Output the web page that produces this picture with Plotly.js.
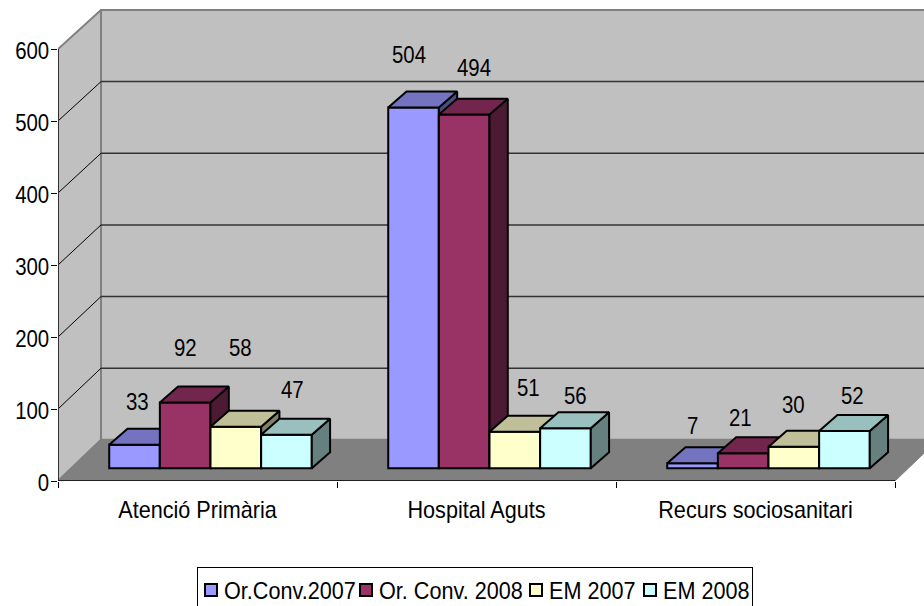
<!DOCTYPE html>
<html><head><meta charset="utf-8">
<script src="https://cdn.plot.ly/plotly-3.0.1.min.js"></script>
<style>html,body{margin:0;padding:0;background:#fff;overflow:hidden}</style>
</head><body><div id="chart" style="width:924px;height:606px"></div>
<script>
const categories = ["Atenció Primària", "Hospital Aguts", "Recurs sociosanitari"];
const seriesNames = ["Or.Conv.2007", "Or. Conv. 2008", "EM 2007", "EM 2008"];
const orConv2007 = [33, 504, 7];
const orConv2008 = [92, 494, 21];
const em2007 = [58, 51, 30];
const em2008 = [47, 56, 52];
const yTicks = [0, 100, 200, 300, 400, 500, 600];
const seriesValues = [orConv2007, orConv2008, em2007, em2008];

// styles
const frontColors = ["#9999ff", "#993366", "#ffffcc", "#ccffff"];
const topColors = ["#7373bf", "#73264d", "#bfbf99", "#99bfbf"];
const sideColors = ["#4d4d80", "#4d1a33", "#808066", "#668080"];
const FONT = "'Liberation Sans',Arial,sans-serif";

// label nudges per series/category (hand-placed labels in the original), px
const labelDx = [[3, -5, 0], [0, 10, -3], [5, 14, 0], [6, 10, 8]];
const labelDy = [[43, 53, 38], [55, 47, 36], [79, 44, 42], [45, 33, 36]];
// legend entry left edges inside the box, px
const legendEntryX = [-6, 149, 319, 433];
const legendTextGap = 33;

// geometry
const W = 866, H = 481, PXX = 279, PXY = 0.72;
const barW = 0.1815, depthX = 18.3 / PXX, depthY = 22.3;
const barScale = 0.716, barFloorPx = 12.7;
const wallDx = 43 / PXX;
const backY = v => 57.2 + v * 0.995;
const xMin = -0.5, xMax = xMin + W / PXX, yMax = H / PXY;

const traces = [];
const poly = (xs, ys, fill, line, width) => ({
  type: "scatter", mode: "lines", x: xs, y: ys, fill: "toself", fillcolor: fill,
  line: {color: line, width: width}, hoverinfo: "skip", showlegend: false, xaxis: "x", yaxis: "y", cliponaxis: true
});
const seg = (xs, ys, color, width, clip) => ({
  type: "scatter", mode: "lines", x: xs, y: ys, line: {color: color, width: width},
  hoverinfo: "skip", showlegend: false, xaxis: "x", yaxis: "y", cliponaxis: !!clip
});
const yTop = yTicks[yTicks.length - 1], xEnd = 2.5;
traces.push(poly([xMin + wallDx, xMax + 1, xMax + 1, xMin + wallDx, xMin + wallDx],
                 [backY(0), backY(0), backY(yTop), backY(yTop), backY(0)], "#c0c0c0", "#808080", 2));
traces.push(poly([xMin, xMin + wallDx, xMin + wallDx, xMin, xMin],
                 [0, backY(0), backY(yTop), yTop, 0], "#c0c0c0", "#808080", 2));
traces.push(poly([xMin, xEnd, xEnd + wallDx, xMin + wallDx, xMin],
                 [0, 0, backY(0), backY(0), 0], "#808080", "#808080", 1));
yTicks.slice(1, -1).forEach(v => {
  traces.push(seg([xMin, xMin + wallDx], [v, backY(v)], "#000000", 1, true));
  traces.push(seg([xMin + wallDx, xMax + 1], [backY(v), backY(v)], "#333333", 1.5, true));
});
traces.push(seg([xMin, xMin], [0, yTop], "#333333", 2, false));
traces.push(seg([xMin, xEnd], [0, 0], "#000000", 1.5, false));

const layout = {
  width: 924, height: 606, paper_bgcolor: "#fff", plot_bgcolor: "rgba(0,0,0,0)",
  margin: {l: 58, r: 0, t: 0, b: 125}, barmode: "overlay", showlegend: true,
  font: {family: FONT, color: "#000"},
  legend: {orientation: "h", xref: "container", yref: "container", x: 197 / 924, xanchor: "left", y: 1 - 567 / 606, yanchor: "top",
    bordercolor: "#000", borderwidth: 1, bgcolor: "#fff", font: {family: FONT, size: 24},
    traceorder: "normal", itemwidth: 30, tracegroupgap: 0},
  xaxis: {range: [xMin, xMax], tickmode: "array", tickvals: [0, 1, 2], ticktext: categories,
    ticks: "", ticklen: 0, showgrid: false, zeroline: false, showline: false, ticklabelstandoff: 12,
    tickfont: {family: FONT, size: 24}, fixedrange: true,
    minor: {tickmode: "array", tickvals: [-0.5, 0.5, 1.5, 2.5], ticks: "outside", ticklen: 6, tickwidth: 1, tickcolor: "#000", showgrid: false}},
  yaxis: {range: [0, yMax], tickmode: "array", tickvals: yTicks, ticks: "outside", ticklen: 6, tickwidth: 1,
    tickcolor: "#000", showgrid: false, zeroline: false, showline: false, ticklabelstandoff: -3, ticklabelshift: 2,
    tickfont: {family: FONT, size: 24}, fixedrange: true},
  annotations: []
};

const xZero = 152.5 / PXX;
seriesValues.forEach((vals, i) => {
  const n = i + 2, xa = "x" + n, ya = "y" + n;
  const common = {visible: false, fixedrange: true};
  layout["xaxis" + n] = {...common, overlaying: "x", range: [-xZero, W / PXX - xZero]};
  layout["yaxis" + n] = {...common, overlaying: "y",
    range: [-barFloorPx / barScale, (H - barFloorPx) / barScale]};
  const off = (i - 2) * barW;
  traces.push({type: "bar", name: seriesNames[i], x: [0, 1, 2], y: vals, offset: off, width: barW,
    marker: {color: frontColors[i], line: {color: "#000", width: 2}},
    xaxis: xa, yaxis: ya, hoverinfo: "name+y"});
  const sx = [], sy = [], tx = [], ty = [];
  vals.forEach((v, c) => {
    const l = c + off, r = l + barW;
    sx.push(r, r + depthX, r + depthX, r, r, null);
    sy.push(0, depthY, v + depthY, v, 0, null);
    tx.push(l, l + depthX, r + depthX, r, l, null);
    ty.push(v, v + depthY, v + depthY, v, v, null);
    layout.annotations.push({xref: xa, yref: ya, x: l + barW / 2, y: v, text: String(v), showarrow: false,
      xanchor: "center", yanchor: "middle", xshift: labelDx[i][c], yshift: labelDy[i][c],
      font: {family: FONT, size: 24, color: "#000"}});
  });
  const face = (xs, ys, col) => ({type: "scatter", mode: "lines", x: xs, y: ys, fill: "toself", fillcolor: col,
    line: {color: "#000", width: 2}, hoverinfo: "skip", showlegend: false, xaxis: xa, yaxis: ya});
  traces.push(face(sx, sy, sideColors[i]));
  traces.push(face(tx, ty, topColors[i]));
});

// The original's type is horizontally condensed: narrow the real text glyphs.
const squeeze = (sel, k) => document.querySelectorAll(sel).forEach(t => {
  t.setAttribute("textLength", t.getComputedTextLength() * k);
  t.setAttribute("lengthAdjust", "spacingAndGlyphs");
});

Plotly.newPlot("chart", traces, layout, {displayModeBar: false, responsive: false}).then(() => {
  squeeze(".ytick text", 0.85);
  squeeze(".annotation-text", 0.85);
  squeeze(".xtick text", 0.9);
  squeeze(".legendtext", 0.9);
  document.querySelectorAll(".legend .traces").forEach((g, i) => {
    const m = /translate\(([^,]+),\s*([^)]+)\)/.exec(g.getAttribute("transform"));
    g.setAttribute("transform", `translate(${legendEntryX[i]},${m ? m[2] : 0})`);
    g.querySelector(".legendtext").setAttribute("x", legendTextGap);
  });
  const bg = document.querySelector(".legend .bg");
  bg.setAttribute("width", 555);
  bg.setAttribute("height", 60);
});
</script></body></html>
